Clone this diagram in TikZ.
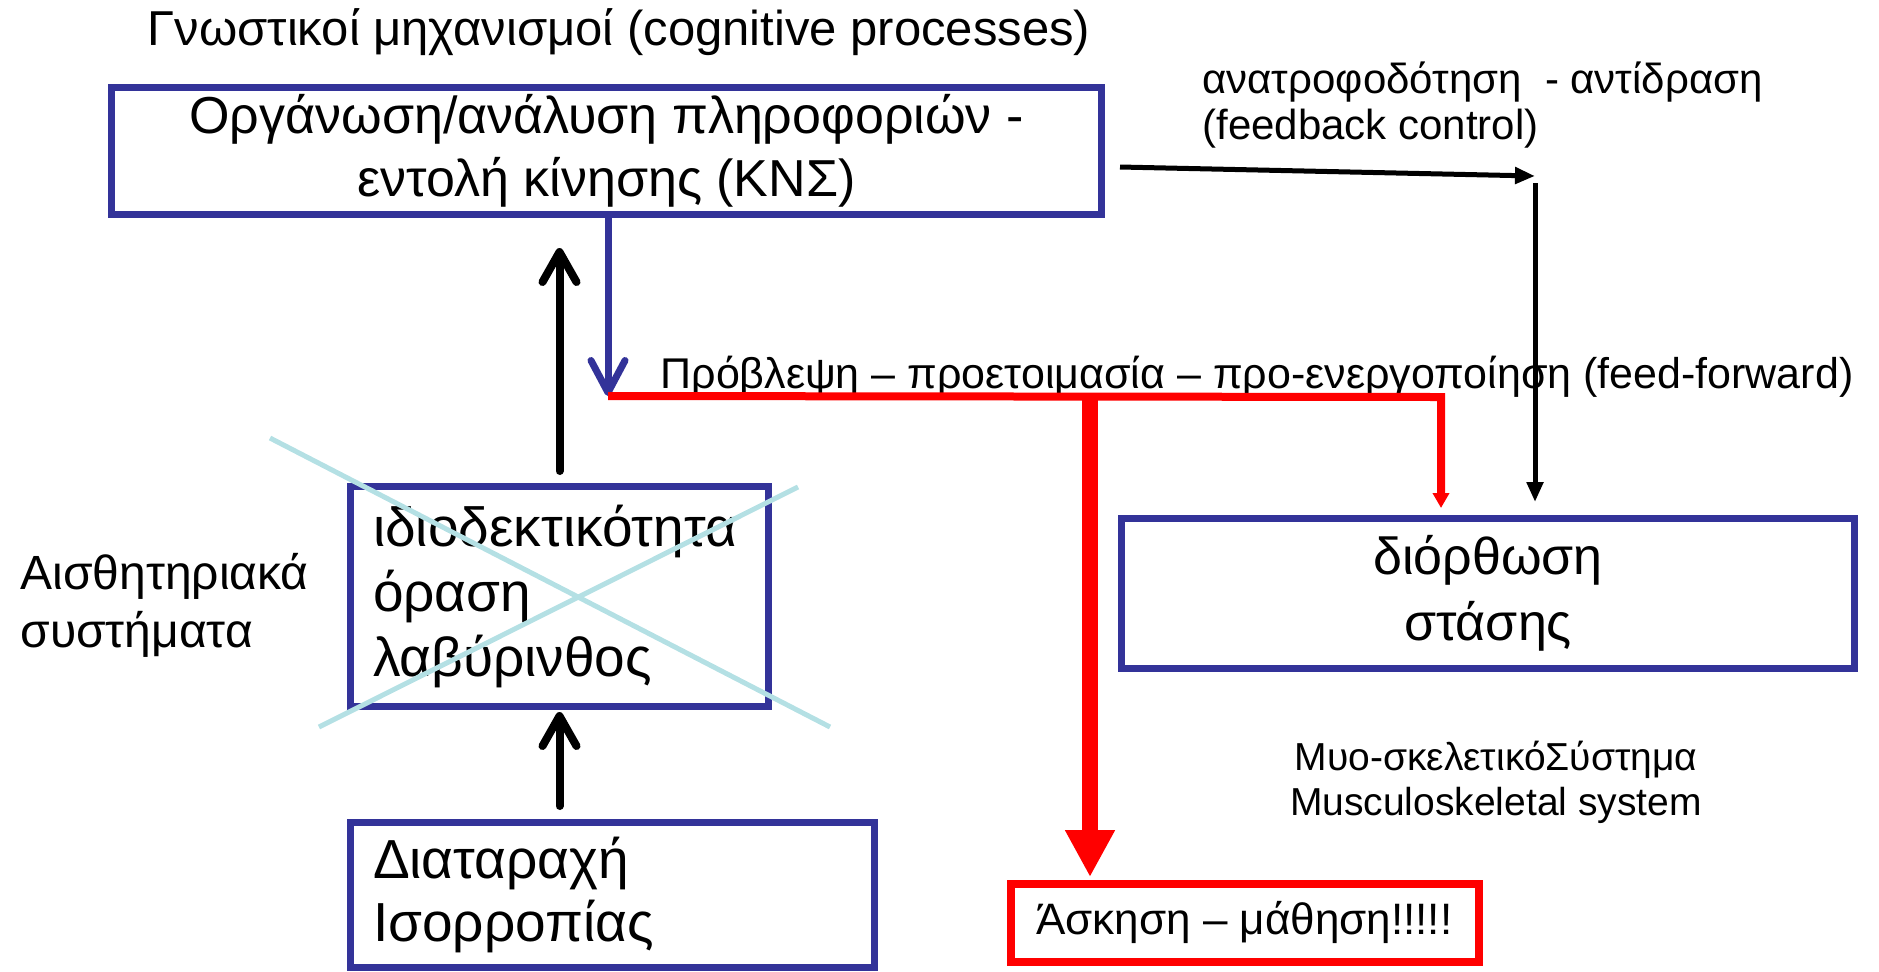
\documentclass[tikz,border=0pt]{standalone}
\usepackage{fontspec}
\setmainfont{Liberation Sans}
\usetikzlibrary{arrows.meta}
\definecolor{navybox}{RGB}{51,51,153}
\definecolor{crossblue}{RGB}{180,224,228}

\begin{document}
\begin{tikzpicture}[x=0.5pt, y=-0.5pt, every node/.style={font=\fontsize{26}{31.5}\selectfont, inner sep=0pt},
	box/.style={draw=navybox, line width=3.5pt},
	redbox/.style={draw=red, line width=4pt},
	midtext/.style={font=\fontsize{21}{23}\selectfont},
	upline/.style={line width=4pt, line cap=round, -{Straight Barb[length=15pt, width=17pt, round]}},
	fbline/.style={line width=2.5pt, -{Triangle[length=10pt, width=8pt]}},
	crossline/.style={draw=crossblue, line width=2.5pt}]
	\useasboundingbox (0,0) rectangle (1879,971);
	\node (title) at (619,32) [font=\fontsize{24.5}{28}\selectfont] {Γνωστικοί μηχανισμοί (cognitive processes)};
	\node[box, minimum width=495pt, minimum height=63.5pt, align=center] (kns) at (606.5,151) {Οργάνωση/ανάλυση πληροφοριών -\\εντολή κίνησης (ΚΝΣ)};
	\node[box, minimum width=209pt, minimum height=110pt, inner xsep=11.25pt, text width=186.5pt, align=left, font=\fontsize{27.5}{32.5}\selectfont] (sense) at (559.5,596.5) {ιδιοδεκτικότητα\\όραση\\λαβύρινθος};
	\node[box, minimum width=262pt, minimum height=72.5pt, inner xsep=11.25pt, text width=239.5pt, align=left, font=\fontsize{27.5}{31.5}\selectfont] (dist) at (612.5,895) {Διαταραχή\\Ισορροπίας};
	\node[box, minimum width=366.5pt, minimum height=75pt, align=center, font=\fontsize{26}{33}\selectfont] (cor) at (1488,593.5) {διόρθωση\\στάσης};
	\node[redbox, minimum width=234pt, minimum height=39pt, font=\fontsize{22}{28}\selectfont] (ask) at (1244.5,922.5) {Άσκηση – μάθηση!!!!!};
	\node[align=left, anchor=west, font=\fontsize{24}{29}\selectfont] (senselabel) at (20,605) {Αισθητηριακά\\συστήματα};
	\node[align=left, anchor=west, midtext] (fblabel) at (1202,105) {ανατροφοδότηση~ - αντίδραση\\(feedback control)};
	\node[font=\fontsize{21.5}{23}\selectfont] (fflabel) at (1257,377) {Πρόβλεψη – προετοιμασία – προ-ενεργοποίηση (feed-forward)};
	\node[align=center, font=\fontsize{19.5}{22.5}\selectfont] (muscle) at (1496,782.5) {Μυο-σκελετικόΣύστημα\\Musculoskeletal system};

	\coordinate (ff) at (608,396);
	\coordinate (redturn) at (1441,397);
	\coordinate (learn) at (1090,397);
	\coordinate (fbk) at (1535,176);

	\draw[upline, shorten <=6pt, shorten >=15pt] (sense.north) -- (sense.north |- kns.south);
	\draw[upline, shorten <=6.5pt, shorten >=1pt] (sense.south |- dist.north) -- (sense.south);
	\draw[navybox, line width=3.5pt, line cap=round, -{Straight Barb[length=16pt, width=17pt, round]}] (kns.south -| ff) -- (ff);
	\draw[red, line width=4pt, -{Triangle[length=7.5pt, width=8pt]}, shorten >=3.5pt] (ff) -- (redturn) -- (redturn |- cor.north);
	\draw[red, line width=8pt, -{Triangle[length=23.5pt, width=23.5pt]}, shorten >=1.25pt] (learn) -- (learn |- ask.north);
	\draw[fbline] ([shift={(15,16)}]kns.east) -- (fbk);
	\draw[fbline, shorten <=3.5pt, shorten >=6.5pt] (fbk) -- (fbk |- cor.north);

	\draw[crossline] (270,438) -- (830,727);
	\draw[crossline] (319,727) -- (798,487);
\end{tikzpicture}
\end{document}
